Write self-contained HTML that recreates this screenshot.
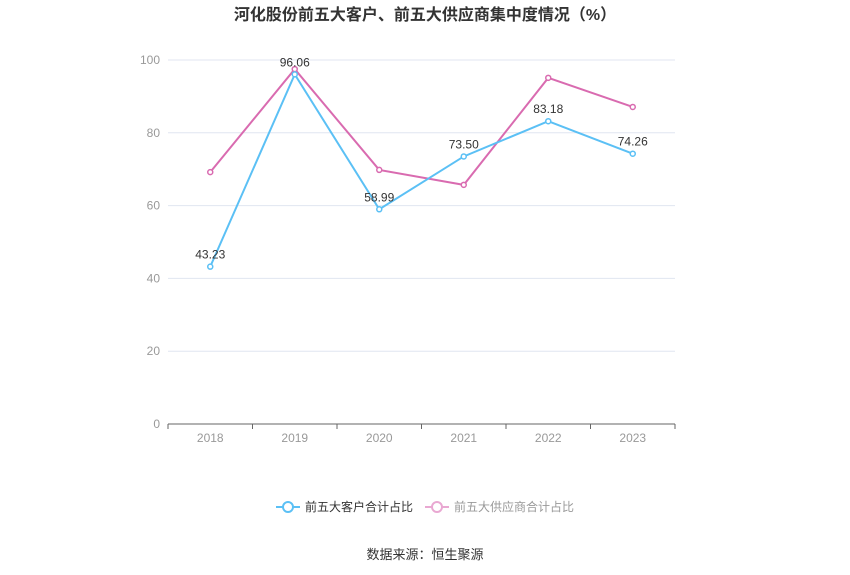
<!DOCTYPE html>
<html><head><meta charset="utf-8">
<style>
body{margin:0;background:#fff;}
svg{display:block;font-family:"Liberation Sans","Noto Sans CJK SC",sans-serif;}
</style></head>
<body>
<svg id="chart" width="850" height="575">
<text x="425" y="20" text-anchor="middle" font-size="16" font-weight="bold" fill="#333">河化股份前五大客户、前五大供应商集中度情况（%）</text>
<g id="grid"></g>
<g id="series"></g>
<g>
<g>
<line x1="276" x2="300" y1="507" y2="507" stroke="#5bc0f5" stroke-width="2"/>
<circle cx="288" cy="507" r="5" fill="#fff" stroke="#5bc0f5" stroke-width="2"/>
<text x="305" y="511" font-size="12" fill="#333">前五大客户合计占比</text>
</g>
<g>
<line x1="425" x2="449" y1="507" y2="507" stroke="#e9a8d2" stroke-width="2"/>
<circle cx="437" cy="507" r="5" fill="#fff" stroke="#e9a8d2" stroke-width="2"/>
<text x="454" y="511" font-size="12" fill="#999">前五大供应商合计占比</text>
</g>
</g>
<text x="425" y="559" text-anchor="middle" font-size="13" fill="#333">数据来源：恒生聚源</text>
</svg>
<script>
const categories=["2018","2019","2020","2021","2022","2023"];
const customerValues=[43.23,96.06,58.99,73.50,83.18,74.26];
const supplierValues=[69.2,97.5,69.8,65.7,95.1,87.1];
const yTicks=[0,20,40,60,80,100];

const NS="http://www.w3.org/2000/svg";
const plotLeft=168,plotRight=675,plotTop=60,plotBottom=424;
const band=(plotRight-plotLeft)/categories.length;
const xPos=i=>plotLeft+band*(i+0.5);
const yPos=v=>plotBottom-(v/100)*(plotBottom-plotTop);
function mk(tag,attrs,parent){const e=document.createElementNS(NS,tag);for(const k in attrs)e.setAttribute(k,attrs[k]);parent.appendChild(e);return e;}
const grid=document.getElementById('grid');
yTicks.forEach(t=>{
  const l=mk('line',{x1:plotLeft,x2:plotRight,y1:yPos(t),y2:yPos(t),stroke:t===0?'#666':'#e0e6f1','stroke-width':1},grid);
  
  
  const tx=mk('text',{x:plotLeft-8,y:yPos(t)+4,'text-anchor':'end','font-size':12,fill:'#999'},grid);
  tx.textContent=t;
  
  
});
categories.forEach((c,i)=>{
  const tk=mk('line',{x1:plotLeft+band*i,x2:plotLeft+band*i,y1:plotBottom,y2:plotBottom+5,stroke:'#666'},grid);
  
  
  const tx=mk('text',{x:xPos(i),y:plotBottom+18,'text-anchor':'middle','font-size':12,fill:'#999'},grid);
  tx.textContent=c;
  
  
});
const tkEnd=mk('line',{x1:plotRight,x2:plotRight,y1:plotBottom,y2:plotBottom+5,stroke:'#666'},grid);


const sg=document.getElementById('series');
function drawSeries(vals,color,name,labels){
  const p=mk('polyline',{points:vals.map((v,i)=>xPos(i)+','+yPos(v)).join(' '),fill:'none',stroke:color,'stroke-width':2},sg);
  
  
  vals.forEach((v,i)=>{
    const c=mk('circle',{cx:xPos(i),cy:yPos(v),r:2.5,fill:'#fff',stroke:color,'stroke-width':1.5},sg);
    
    
    if(labels){
      const t=mk('text',{x:xPos(i),y:yPos(v)-8,'text-anchor':'middle','font-size':12,fill:'#333'},sg);
      t.textContent=v.toFixed(2);
      
      
    }
  });
}
drawSeries(supplierValues,'#d96bb0','supplier-share',false);
drawSeries(customerValues,'#5bc0f5','customer-share',true);
</script>
</body></html>
